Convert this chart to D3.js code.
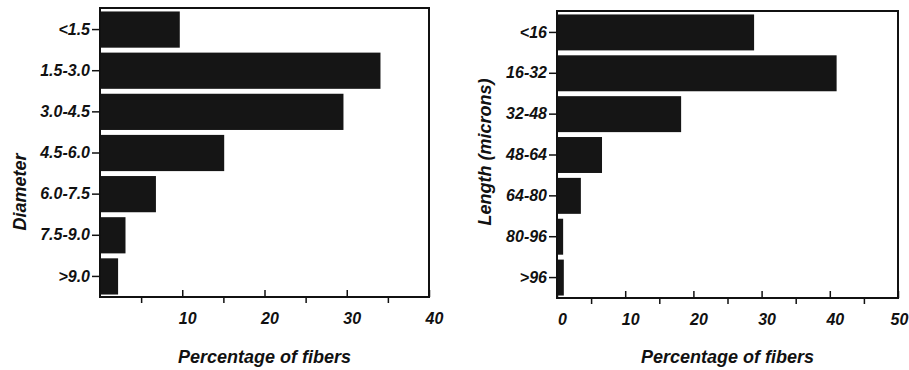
<!DOCTYPE html>
<html>
<head>
<meta charset="utf-8">
<script src="https://cdn.jsdelivr.net/npm/d3@7"></script>
<style>
  body { margin: 0; background: #fff; }
  svg { display: block; }
  text { font-family: "Liberation Sans", Arial, Helvetica, sans-serif; font-weight: bold; font-style: italic; fill: #111; }
</style>
</head>
<body>
<div id="chart"></div>
<script>
// diameter panel
const diameterCats = ["<1.5", "1.5-3.0", "3.0-4.5", "4.5-6.0", "6.0-7.5", "7.5-9.0", ">9.0"];
const diameterPct = [9.7, 34.1, 29.6, 15.1, 6.8, 3.1, 2.2];
const diameterTicks = [10, 20, 30, 40];
const diameterMinor = [5, 15, 25, 35];

// length panel
const lengthCats = ["<16", "16-32", "32-48", "48-64", "64-80", "80-96", ">96"];
const lengthPct = [28.9, 41.0, 18.2, 6.6, 3.5, 0.9, 1.0];
const lengthTicks = [0, 10, 20, 30, 40, 50];
const lengthMinor = [5, 15, 25, 35, 45];

const xLabel = "Percentage of fibers";

const width = 909, height = 370;
const svg = d3.select("#chart").append("svg").attr("width", width).attr("height", height);

function panel(opts) {
    const { left, right, top, bottom, cats, vals, xMax, ticks, minor, yLabel, yLabelX, yLabelY } = opts;

    const x = d3.scaleLinear().domain([0, xMax]).range([left, right]);
    const y = d3.scaleBand().domain(cats).range([top + 1, bottom])
        .paddingInner(0.12).paddingOuter(0.06);

    const g = svg.append("g");

    // bars
    g.selectAll("rect.bar")
        .data(cats.map((c, i) => ({ c, v: vals[i] })))
        .join("rect")
        .attr("class", "bar")
        .attr("x", x(0) - 0.5)
        .attr("y", d => y(d.c))
        .attr("width", d => x(d.v) - x(0) + 0.5)
        .attr("height", y.bandwidth())
        .attr("fill", "#151515");

    // frame
    g.append("rect")
        .attr("x", left).attr("y", top)
        .attr("width", right - left).attr("height", bottom - top)
        .attr("fill", "none").attr("stroke", "#111").attr("stroke-width", 2);

    // y axis
    const ya = g.append("g")
        .attr("transform", `translate(${left - 1},0)`)
        .attr("font-size", null)
        .call(d3.axisLeft(y).tickSize(7).tickPadding(2));
    ya.select(".domain").remove();
    ya.selectAll(".tick line").attr("stroke", "#111").attr("stroke-width", 1.5);
    ya.selectAll(".tick text")
        .style("font-size", "16px").attr("fill", "#111");

    // x axis major ticks point inward
    const xa = g.append("g")
        .attr("transform", `translate(0,${bottom})`)
        .call(d3.axisBottom(x).tickValues(ticks).tickSize(-7).tickPadding(16).tickFormat(d3.format("d")));
    xa.select(".domain").remove();
    xa.selectAll(".tick line").attr("stroke", "#111").attr("stroke-width", 1.5);
    xa.selectAll(".tick text")
        .style("font-size", "16px").attr("fill", "#111")
        .attr("dx", d => Math.min(5, width - 10 - x(d)));

    // minor ticks point outward
    const xm = g.append("g")
        .attr("transform", `translate(0,${bottom + 1})`)
        .call(d3.axisBottom(x).tickValues(minor).tickSize(5).tickFormat(""));
    xm.select(".domain").remove();
    xm.selectAll(".tick line").attr("stroke", "#111").attr("stroke-width", 1.5);

    // axis titles
    g.append("text")
        .attr("x", (left + right) / 2)
        .attr("y", 363)
        .attr("text-anchor", "middle")
        .style("font-size", "18px")
        .text(xLabel);

    g.append("text")
        .attr("transform", `translate(${yLabelX},${yLabelY}) rotate(-90)`)
        .attr("text-anchor", "middle")
        .attr("dy", "0.35em")
        .style("font-size", "18px")
        .text(yLabel);
}

panel({
    left: 100, right: 429, top: 8, bottom: 297,
    cats: diameterCats, vals: diameterPct, xMax: 40,
    ticks: diameterTicks, minor: diameterMinor,
    yLabel: "Diameter", yLabelX: 20, yLabelY: 192
});

panel({
    left: 557, right: 898, top: 11, bottom: 298,
    cats: lengthCats, vals: lengthPct, xMax: 50,
    ticks: lengthTicks, minor: lengthMinor,
    yLabel: "Length (microns)", yLabelX: 485, yLabelY: 152
});
</script>
</body>
</html>
